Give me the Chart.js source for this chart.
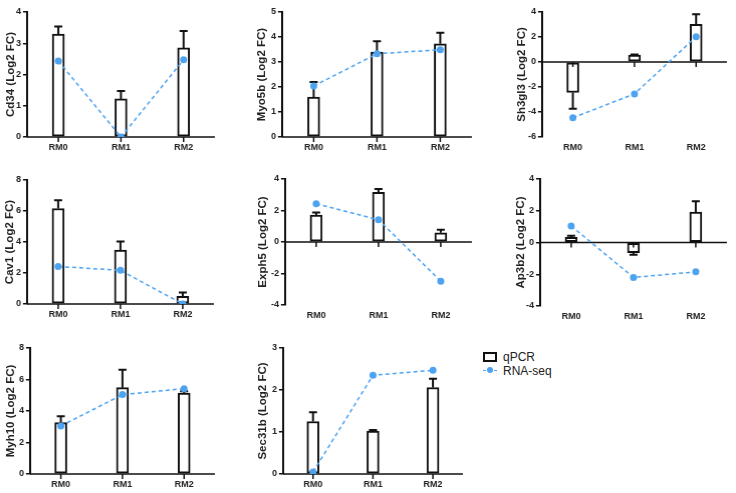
<!DOCTYPE html>
<html>
<head>
<meta charset="utf-8">
<script src="https://cdn.jsdelivr.net/npm/chart.js@4.4.0/dist/chart.umd.min.js"></script>
<style>
  body { margin: 0; background: #fff; width: 736px; height: 493px; position: relative; overflow: hidden;
         font-family: "Liberation Sans", Arial, sans-serif; color: #222; }
  .panel { position: absolute; }
  .legend-item { position: absolute; font-size: 12px; line-height: 14px; }
  .box { position: absolute; width: 10px; height: 6px; border: 2px solid #111; background: #fff; }
  .dash { position: absolute; width: 14px; height: 0; border-top: 1.5px dashed #4da3f0; }
  .dot { position: absolute; width: 6px; height: 6px; border-radius: 50%; background: #4da3f0; }
</style>
</head>
<body>
<div id="charts"></div>

<div class="box" style="left:483px; top:352px;"></div>
<div class="legend-item" style="left:503px; top:350px;">qPCR</div>
<div class="dash" style="left:483px; top:370px;"></div>
<div class="dot" style="left:487px; top:367px;"></div>
<div class="legend-item" style="left:503px; top:364px;">RNA-seq</div>

<script>
const categories = ['RM0', 'RM1', 'RM2'];

// qPCR means, qPCR error (SEM), RNA-seq log2 FC
const cd34Qpcr = [3.29, 1.22, 2.85];
const cd34Err = [0.25, 0.25, 0.54];
const cd34Rna = [2.43, 0.0, 2.47];

const myo5bQpcr = [1.6, 3.4, 3.73];
const myo5bErr = [0.6, 0.43, 0.44];
const myo5bRna = [2.04, 3.33, 3.49];

const sh3gl3Qpcr = [-2.44, 0.56, 3.02];
const sh3gl3Err = [1.3, 0.04, 0.8];
const sh3gl3Rna = [-4.46, -2.55, 2.02];

const cav1Qpcr = [6.16, 3.48, 0.49];
const cav1Err = [0.54, 0.55, 0.26];
const cav1Rna = [2.42, 2.17, 0.0];

const exph5Qpcr = [1.71, 3.15, 0.58];
const exph5Err = [0.17, 0.22, 0.19];
const exph5Rna = [2.43, 1.41, -2.49];

const ap3b2Qpcr = [0.33, -0.64, 1.91];
const ap3b2Err = [0.1, 0.13, 0.69];
const ap3b2Rna = [1.04, -2.2, -1.85];

const myh10Qpcr = [3.26, 5.48, 5.14];
const myh10Err = [0.4, 1.14, 0.11];
const myh10Rna = [3.05, 5.04, 5.42];

const sec31bQpcr = [1.25, 1.02, 2.06];
const sec31bErr = [0.22, 0.03, 0.21];
const sec31bRna = [0.05, 2.35, 2.47];

const blue = '#4da3f0';

// panel placement on the page (axis x, plot top/bottom, plot right, title centre)
const panels = [
  { title: 'Cd34 (Log2 FC)',   q: cd34Qpcr,   e: cd34Err,   r: cd34Rna,   min: 0,  max: 4, step: 1, ax: 27,  top: 12,  bottom: 137, right: 218, tx: 11 },
  { title: 'Myo5b (Log2 FC)',  q: myo5bQpcr,  e: myo5bErr,  r: myo5bRna,  min: 0,  max: 5, step: 1, ax: 282, top: 12,  bottom: 137, right: 475, tx: 262 },
  { title: 'Sh3gl3 (Log2 FC)', q: sh3gl3Qpcr, e: sh3gl3Err, r: sh3gl3Rna, min: -6, max: 4, step: 2, ax: 542, top: 12,  bottom: 137, right: 730, tx: 522 },
  { title: 'Cav1 (Log2 FC)',   q: cav1Qpcr,   e: cav1Err,   r: cav1Rna,   min: 0,  max: 8, step: 2, ax: 27,  top: 180, bottom: 304, right: 217, tx: 10 },
  { title: 'Exph5 (Log2 FC)',  q: exph5Qpcr,  e: exph5Err,  r: exph5Rna,  min: -4, max: 4, step: 2, ax: 285, top: 179, bottom: 305, right: 475, tx: 263 },
  { title: 'Ap3b2 (Log2 FC)',  q: ap3b2Qpcr,  e: ap3b2Err,  r: ap3b2Rna,  min: -4, max: 4, step: 2, ax: 540, top: 179, bottom: 306, right: 730, tx: 521 },
  { title: 'Myh10 (Log2 FC)',  q: myh10Qpcr,  e: myh10Err,  r: myh10Rna,  min: 0,  max: 8, step: 2, ax: 30,  top: 348, bottom: 474, right: 218, tx: 11 },
  { title: 'Sec31b (Log2 FC)', q: sec31bQpcr, e: sec31bErr, r: sec31bRna, min: 0,  max: 3, step: 1, ax: 283, top: 348, bottom: 474, right: 466, tx: 263 }
];

// error bars, zero line and category ticks, drawn right after the bars
const extras = {
  id: 'extras',
  afterDatasetDraw(chart, args) {
    if (args.index !== 0) return;
    const { ctx, chartArea, scales: { x, y } } = chart;
    const ds = chart.data.datasets[0];
    ctx.save();
    ctx.strokeStyle = '#111';
    ctx.lineWidth = 2;
    ds.data.forEach((v, i) => {
      const px = x.getPixelForValue(i);
      const y0 = y.getPixelForValue(v);
      const y1 = y.getPixelForValue(v + Math.sign(v) * ds.errors[i]);
      ctx.beginPath();
      ctx.moveTo(px, y0); ctx.lineTo(px, y1);
      ctx.moveTo(px - 4, y1); ctx.lineTo(px + 4, y1);
      ctx.stroke();
    });
    const z = y.getPixelForValue(0);
    ctx.lineWidth = 1.5;
    ctx.beginPath();
    ctx.moveTo(chartArea.left, z); ctx.lineTo(chartArea.right, z);
    ds.data.forEach((v, i) => {
      const px = x.getPixelForValue(i);
      ctx.moveTo(px, z); ctx.lineTo(px, z + 5);
    });
    ctx.stroke();
    ctx.restore();
  }
};

const titleSize = 11.5;
const holder = document.getElementById('charts');

panels.forEach(p => {
  const left = p.tx - titleSize * 1.2 / 2;
  const top = p.top - 10;
  const yW = p.ax - left;
  const div = document.createElement('div');
  div.className = 'panel';
  div.style.left = left + 'px';
  div.style.top = top + 'px';
  div.style.width = (p.right - left) + 'px';
  div.style.height = (p.bottom + 20 - top) + 'px';
  const canvas = document.createElement('canvas');
  div.appendChild(canvas);
  holder.appendChild(div);

  new Chart(canvas, {
    type: 'bar',
    data: {
      labels: categories,
      datasets: [{
        label: 'qPCR',
        data: p.q,
        errors: p.e,
        backgroundColor: '#fff',
        borderColor: '#111',
        borderWidth: 2,
        borderSkipped: false,
        barThickness: 12,
        order: 2
      }, {
        type: 'line',
        label: 'RNA-seq',
        data: p.r,
        borderColor: blue,
        borderWidth: 1.5,
        borderDash: [4, 3],
        pointRadius: 3.5,
        pointBackgroundColor: blue,
        pointBorderWidth: 0,
        tension: 0,
        order: 1
      }]
    },
    options: {
      responsive: true,
      maintainAspectRatio: false,
      animation: false,
      layout: { padding: { top: 10, right: 0, bottom: 0, left: 0 } },
      plugins: { legend: { display: false }, tooltip: { enabled: false } },
      scales: {
        x: {
          offset: true,
          grid: { display: false, drawTicks: false },
          border: { display: false },
          ticks: { color: '#222', padding: 5, font: { family: 'Liberation Sans', weight: 'bold', size: 9 } },
          afterFit: s => { s.height = 20; }
        },
        y: {
          min: p.min,
          max: p.max,
          ticks: { stepSize: p.step, color: '#222', padding: 2, font: { family: 'Liberation Sans', weight: 'bold', size: 9 } },
          grid: { drawOnChartArea: false, drawTicks: true, tickLength: 4, color: '#111', lineWidth: 1.5 },
          border: { display: true, color: '#111', width: 2 },
          title: {
            display: true,
            text: p.title,
            color: '#222',
            padding: 0,
            font: { family: 'Liberation Sans', weight: 'bold', size: titleSize }
          },
          afterFit: s => { s.width = yW; }
        }
      }
    },
    plugins: [extras]
  });
});
</script>
</body>
</html>
